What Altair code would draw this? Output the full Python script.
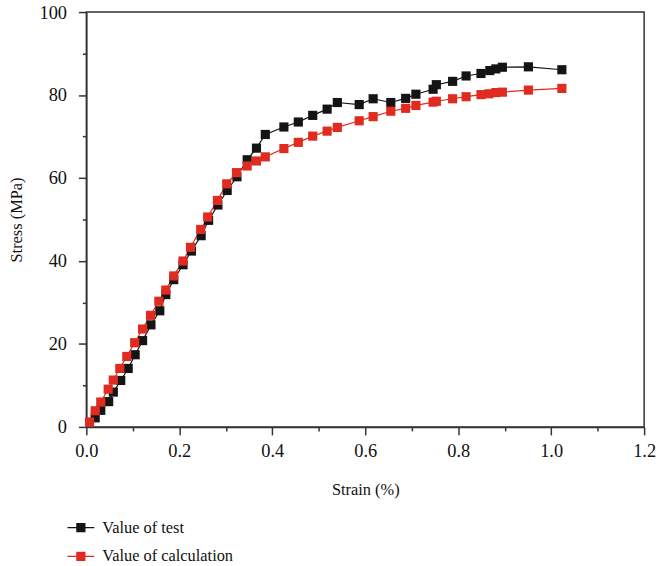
import altair as alt
import pandas as pd

test_strain = [0.019, 0.031, 0.048, 0.058, 0.074, 0.090, 0.105, 0.121, 0.139, 0.158, 0.171, 0.188,
               0.208, 0.226, 0.247, 0.263, 0.283, 0.303, 0.324, 0.346, 0.366, 0.385, 0.425, 0.456,
               0.487, 0.518, 0.540, 0.587, 0.617, 0.655, 0.687, 0.709, 0.746, 0.753, 0.788, 0.817,
               0.849, 0.868, 0.881, 0.895, 0.951, 1.023]
test_stress = [2.2, 4.0, 6.1, 8.4, 11.2, 14.1, 17.4, 20.8, 24.6, 28.0, 31.9, 35.5,
               39.1, 42.4, 46.1, 49.8, 53.5, 57.0, 60.3, 64.4, 67.2, 70.5, 72.3, 73.5,
               75.1, 76.6, 78.2, 77.7, 79.1, 78.2, 79.2, 80.2, 81.4, 82.5, 83.3, 84.6,
               85.2, 85.9, 86.3, 86.7, 86.8, 86.1]

calc_strain = [0.007, 0.019, 0.031, 0.047, 0.058, 0.072, 0.087, 0.104, 0.121, 0.138, 0.156, 0.171,
               0.188, 0.208, 0.224, 0.246, 0.261, 0.282, 0.302, 0.323, 0.346, 0.366, 0.385, 0.425,
               0.456, 0.487, 0.518, 0.540, 0.587, 0.617, 0.655, 0.687, 0.709, 0.746, 0.753, 0.788,
               0.817, 0.849, 0.866, 0.881, 0.895, 0.951, 1.023]
calc_stress = [1.2, 3.9, 6.0, 9.1, 11.3, 14.1, 17.0, 20.3, 23.6, 26.9, 30.3, 33.0,
               36.4, 40.0, 43.3, 47.6, 50.6, 54.6, 58.6, 61.3, 62.9, 64.1, 65.1, 67.1,
               68.6, 70.1, 71.3, 72.2, 73.8, 74.8, 76.1, 76.8, 77.5, 78.3, 78.5, 79.1,
               79.6, 80.1, 80.3, 80.6, 80.7, 81.2, 81.6]

series_names = ["Value of test", "Value of calculation"]
series_colors = ["#141414", "#e02b20"]

x_ticks = [0.0, 0.1, 0.2, 0.3, 0.4, 0.5, 0.6, 0.7, 0.8, 0.9, 1.0, 1.1, 1.2]
y_ticks = [0, 10, 20, 30, 40, 50, 60, 70, 80, 90, 100]

df = pd.concat([
    pd.DataFrame({"strain": test_strain, "stress": test_stress, "series": series_names[0], "order": range(len(test_strain))}),
    pd.DataFrame({"strain": calc_strain, "stress": calc_stress, "series": series_names[1], "order": range(len(calc_strain))}),
], ignore_index=True)

FONT = "Liberation Serif"
AX = "#333333"

legend_path = "M-1,0H1M-0.3,-0.3H0.3V0.3H-0.3Z"

x_scale = alt.Scale(domain=[0, 1.2], nice=False, zero=False)
y_scale = alt.Scale(domain=[0, 100], nice=False)
c_scale = alt.Scale(domain=series_names, range=series_colors)

x_major_test = "round(datum.value*10) % 2 == 0"
y_major_test = "round(datum.value) % 20 == 0"

x_axis = alt.Axis(values=x_ticks, grid=False,
                  labelExpr=f"({x_major_test}) ? format(datum.value, '.1f') : ''",
                  tickSize={"condition": {"test": x_major_test, "value": 8}, "value": 4},
                  domainColor=AX, domainWidth=1.5, tickColor=AX, tickWidth=1.5,
                  labelFont=FONT, labelFontSize=18.5, labelColor="#111", labelPadding=7,
                  labelFlush=False, labelOverlap=False,
                  titleFont=FONT, titleFontSize=16.5, titleFontWeight="normal",
                  titleColor="#111", titlePadding=22)
y_axis = alt.Axis(values=y_ticks, grid=False,
                  labelExpr=f"({y_major_test}) ? format(datum.value, 'd') : ''",
                  tickSize={"condition": {"test": y_major_test, "value": 8}, "value": 4},
                  domainColor=AX, domainWidth=1.5, tickColor=AX, tickWidth=1.5,
                  labelFont=FONT, labelFontSize=18.5, labelColor="#111", labelPadding=12,
                  labelFlush=False, labelOverlap=False,
                  titleFont=FONT, titleFontSize=16.5, titleFontWeight="normal",
                  titleColor="#111", titlePadding=15)

leg = alt.Legend(orient="none", legendX=-20, legendY=505, title=None,
                 symbolType=legend_path, symbolSize=729,
                 symbolStrokeWidth=1.2, labelOffset=7,
                 labelFont=FONT, labelFontSize=16.5, labelColor="#111",
                 rowPadding=6)

base = alt.Chart(df)

enc_x = alt.X("strain:Q", scale=x_scale, title="Strain (%)", axis=x_axis)
enc_y = alt.Y("stress:Q", scale=y_scale, title="Stress (MPa)", axis=y_axis)
enc_c = alt.Color("series:N", scale=c_scale, title=None, legend=leg)

lines = base.mark_line(strokeWidth=1.2).encode(
    x=enc_x, y=enc_y, color=enc_c, detail="series:N", order="order:Q",
)

points = base.mark_point(shape="square", filled=True, size=85, opacity=1).encode(
    x=enc_x, y=enc_y, color=enc_c,
)

chart = alt.layer(lines, points).properties(
    width=562, height=418,
    background="white",
    padding={"left": 8, "top": 1, "right": 5, "bottom": 5},
).configure_view(stroke=AX, strokeWidth=1.5)

chart.save("out.html", embed_options={"renderer": "svg", "actions": False})
